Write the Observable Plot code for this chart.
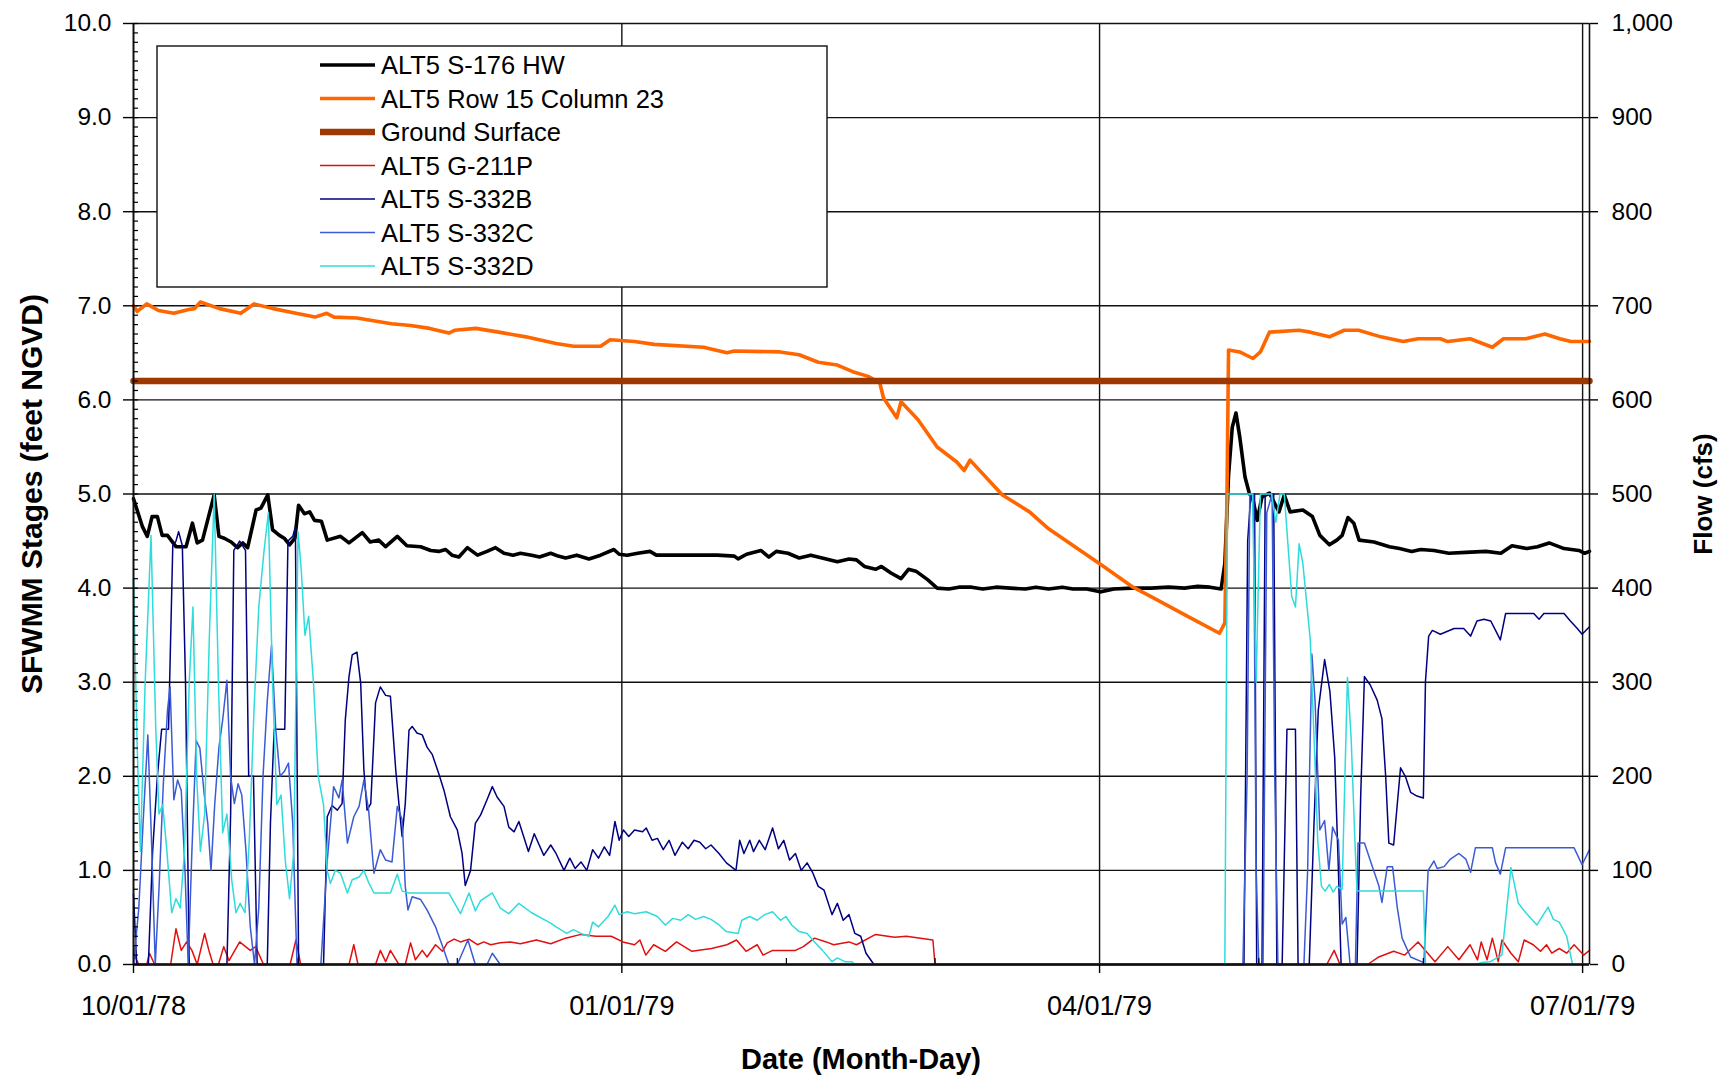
<!DOCTYPE html>
<html>
<head>
<meta charset="utf-8">
<script src="https://cdn.jsdelivr.net/npm/d3@7"></script>
<script src="https://cdn.jsdelivr.net/npm/@observablehq/plot@0.6"></script>
<style>
  html, body { margin: 0; padding: 0; background: #fff; }
  #chart { position: relative; width: 1733px; height: 1075px; }
</style>
</head>
<body>
<div id="chart"></div>
<script>
// ---------------- DATA (days since 10/01/78, value) ----------------
const seriesNames = ["ALT5 S-176 HW", "ALT5 Row 15 Column 23", "Ground Surface", "ALT5 G-211P", "ALT5 S-332B", "ALT5 S-332C", "ALT5 S-332D"];
const seriesColors = ["#000000", "#ff6600", "#9c3800", "#e01010", "#000080", "#3b5bd6", "#2fdcdc"];
const seriesWidths = [3.6, 3.6, 6.5, 1.5, 1.5, 1.5, 1.5];

const xTickDays = [0, 92, 182, 273];
const xTickLabels = ["10/01/78", "01/01/79", "04/01/79", "07/01/79"];
const monthTickDays = [31, 61, 123, 151, 212, 243];
const yTicks = [0, 1, 2, 3, 4, 5, 6, 7, 8, 9, 10];
const yTickLabels = ["0.0", "1.0", "2.0", "3.0", "4.0", "5.0", "6.0", "7.0", "8.0", "9.0", "10.0"];
const flowTickLabels = ["0", "100", "200", "300", "400", "500", "600", "700", "800", "900", "1,000"];

// stages, feet NGVD
const s176HW = [[0,4.95],[1.7,4.65],[2.6,4.55],[3.5,4.76],[4.5,4.76],[5.4,4.56],[6.4,4.56],[8,4.44],[9.9,4.44],[11.1,4.69],[12,4.48],[13,4.51],[15.2,4.99],[16.1,4.55],[17.1,4.53],[18.4,4.49],[19.6,4.43],[20.6,4.48],[21.5,4.43],[23.1,4.83],[24,4.85],[25.3,4.99],[26.2,4.62],[27.5,4.56],[28.4,4.53],[29.4,4.46],[30.4,4.53],[31.1,4.88],[32.2,4.79],[33.2,4.81],[34.1,4.72],[35.4,4.71],[36.5,4.51],[39,4.55],[40.6,4.48],[43.1,4.59],[44.6,4.49],[46.2,4.51],[47.5,4.44],[49.7,4.55],[51.5,4.45],[54.1,4.44],[56,4.40],[57.5,4.39],[58.8,4.41],[60,4.35],[61.3,4.33],[62.9,4.43],[64.8,4.35],[66.6,4.39],[68.2,4.43],[69.8,4.37],[71.5,4.35],[72.9,4.37],[75,4.35],[76.5,4.33],[78.6,4.37],[80,4.34],[81.4,4.32],[83.5,4.35],[85.8,4.31],[88,4.35],[90.5,4.41],[91.5,4.36],[93,4.35],[95,4.37],[97.3,4.39],[98.5,4.35],[100.2,4.35],[103,4.35],[106,4.35],[110,4.35],[113.2,4.34],[113.9,4.31],[115.5,4.36],[118.2,4.40],[119.7,4.33],[121.1,4.39],[123.3,4.37],[125.4,4.32],[127.6,4.35],[130.5,4.31],[132.6,4.28],[134.8,4.31],[136.2,4.30],[137.7,4.23],[139.8,4.20],[140.9,4.23],[142.7,4.16],[144.6,4.10],[146,4.20],[147.4,4.18],[149.6,4.09],[151.4,4.00],[153.6,3.99],[155.5,4.01],[157.9,4.01],[160,3.99],[162.5,4.01],[165.2,4.00],[168,3.99],[170,4.01],[172.4,3.99],[175,4.01],[177,3.99],[179.6,3.99],[182.1,3.96],[184.7,3.99],[188,4.0],[191.7,4.0],[195,4.01],[198,4.0],[200.5,4.02],[202.8,4.01],[204.9,3.99],[205.6,4.26],[206.3,5.2],[207,5.71],[207.7,5.86],[208.4,5.61],[209.4,5.18],[210.2,5.01],[210.9,4.94],[211.7,4.72],[212.6,4.97],[214,5.01],[215.8,4.81],[216.8,4.99],[217.9,4.81],[220.3,4.83],[222.1,4.76],[223.5,4.56],[225.3,4.46],[226.7,4.51],[227.7,4.56],[228.8,4.75],[229.9,4.69],[230.9,4.51],[233.7,4.49],[236.6,4.44],[238.5,4.42],[240.8,4.39],[242.5,4.41],[245,4.40],[247.8,4.37],[251,4.38],[254.8,4.39],[257.6,4.37],[259.7,4.45],[262.5,4.42],[264.5,4.44],[266.7,4.48],[269.5,4.42],[272.3,4.40],[273.4,4.37],[274.3,4.39]];

const row15col23 = [[0,7.0],[0.7,6.94],[2.5,7.02],[4.7,6.95],[7.6,6.92],[10.4,6.96],[11.5,6.97],[12.6,7.04],[16.2,6.97],[20.2,6.92],[22.7,7.02],[26.3,6.97],[30.6,6.92],[34.2,6.88],[36.4,6.92],[37.8,6.88],[42.1,6.87],[48.6,6.81],[52.2,6.79],[55.8,6.76],[59.4,6.71],[60.5,6.74],[64.5,6.76],[68.8,6.72],[73.9,6.67],[79.6,6.60],[82.9,6.57],[88,6.57],[89.8,6.64],[94.4,6.62],[98.1,6.59],[107.4,6.56],[111.8,6.50],[113.2,6.52],[121.8,6.51],[125.4,6.48],[129,6.40],[132.6,6.37],[135.5,6.30],[138.4,6.25],[140.6,6.18],[141.3,6.02],[143.8,5.81],[144.6,5.98],[147.8,5.79],[151.4,5.50],[155.1,5.34],[156.5,5.25],[157.6,5.36],[163.7,4.99],[168.8,4.81],[172.4,4.63],[176.8,4.46],[182.5,4.24],[188.3,4.01],[191.7,3.91],[198.6,3.70],[204.6,3.52],[205.6,3.63],[206,4.97],[206.3,6.53],[208.4,6.51],[210.9,6.44],[212.3,6.51],[214,6.72],[219.6,6.74],[221.7,6.72],[225.3,6.67],[228.1,6.74],[230.8,6.74],[235,6.67],[239.2,6.62],[242,6.65],[246.2,6.65],[247.6,6.62],[251.8,6.65],[256,6.56],[258.1,6.65],[262.3,6.65],[265.9,6.70],[268.7,6.65],[270.8,6.62],[274.3,6.62]];

const groundSurface = [[0,6.2],[274.3,6.2]];

// flows, cfs
const g211P = [[0,12],[1,0],[2.5,0],[3,12],[4,0],[7,0],[8,38],[9,15],[10,24],[11,15],[12,0],[13.4,33],[14.2,15],[15,0],[16,0],[17,19],[18,4],[20,24],[22,15],[23,19],[24.5,0],[29.5,0],[30.6,26],[31.5,0],[40.6,0],[41.5,21],[42.3,0],[45.6,0],[46.5,15],[47.5,3],[48.4,15],[50,0],[51.2,0],[52.2,23],[53.1,5],[54.4,15],[55.3,8],[56.9,21],[58.2,14],[59.1,23],[60.4,27],[61.6,24],[63.2,27],[64.8,21],[66,24],[67.3,21],[69.1,23],[71,24],[72.9,22],[75.9,26],[78.6,22],[81.4,28],[84.3,32],[87.1,30],[90,30],[92.2,24],[94.4,21],[95.4,26],[96.5,10],[98,21],[100.2,14],[102.3,24],[105.2,14],[108.9,17],[111.8,21],[113.6,26],[115.4,14],[117.5,21],[118.6,10],[120.4,15],[124.7,15],[126.2,19],[128.3,28],[130.5,24],[131.9,21],[134.8,24],[136.2,21],[139.8,32],[143.4,29],[145.6,30],[150.6,26],[151,0],[224.8,0],[226.2,15],[227.3,0],[232.5,0],[234.6,8],[237.4,14],[239.5,10],[242,24],[245.2,3],[247.6,19],[249.7,5],[251.8,21],[253.2,5],[253.9,24],[255,5],[256,28],[257.1,3],[257.8,26],[259.5,12],[260.9,3],[262,26],[263.7,21],[265.1,14],[266.2,21],[267.2,12],[268.6,17],[270,12],[271.4,21],[273.2,10],[274.3,15]];

const s332B = [[0,75],[0.6,0],[2.8,0],[3.6,120],[4.5,200],[5.3,250],[6.6,250],[7.4,445],[8,450],[8.5,460],[9.2,445],[9.8,300],[10.5,0],[17.6,0],[18.3,160],[18.9,440],[20,450],[21.1,440],[21.7,200],[22.6,200],[23.3,0],[25.2,0],[25.8,150],[26.5,250],[28.5,250],[29.1,450],[30,455],[30.5,465],[31.1,0],[35.8,0],[36.2,88],[36.5,157],[37.4,169],[38.4,164],[39.3,171],[39.9,260],[40.6,306],[41.2,329],[42.1,332],[42.8,299],[43.4,207],[44,164],[44.7,171],[45.6,278],[46.5,295],[47.5,286],[48.4,285],[49.4,207],[50,171],[50.6,136],[51.2,171],[51.9,249],[52.5,253],[53.4,246],[54.4,244],[55.3,231],[56.3,223],[57.5,203],[58.5,185],[59.7,157],[61,143],[61.9,118],[62.5,84],[63.5,100],[64.4,150],[65.4,159],[66.6,175],[67.6,189],[68.5,178],[69.8,168],[70.7,146],[71.7,141],[72.6,152],[74.4,120],[75.5,139],[77.3,116],[78.6,127],[79.6,118],[81.1,100],[82.2,113],[83.2,102],[84.3,109],[85.4,100],[86.5,122],[87.6,113],[88.7,125],[89.7,116],[90.7,152],[91.5,132],[92.3,143],[93.3,136],[94.4,143],[95.9,141],[96.6,145],[97.7,132],[98.7,134],[99.8,122],[100.9,132],[102,116],[103.4,130],[104.5,123],[105.6,132],[106.7,130],[107.8,123],[108.8,127],[110.3,118],[111.7,108],[113.5,100],[114.2,132],[115,118],[116.1,132],[116.8,120],[117.9,132],[119,122],[120.4,145],[121.5,123],[122.5,132],[123.6,111],[124.7,118],[125.8,100],[126.9,108],[128,97],[129,83],[130.1,79],[131.6,53],[132.6,65],[133.7,47],[134.8,53],[135.9,33],[137,30],[138,12],[139.5,0],[209.2,0],[209.9,450],[210.5,500],[211.2,500],[211.6,0],[212.6,0],[213.2,500],[214.3,500],[214.8,500],[215.4,0],[216.4,0],[217.3,250],[218.9,250],[219.4,0],[221.5,0],[222.4,150],[223.2,270],[224.4,324],[225.4,290],[226.3,220],[227,100],[227.5,0],[230.5,0],[231.2,180],[231.9,306],[233.0,297],[234.3,281],[235.2,261],[235.9,200],[236.5,129],[237.4,127],[238.7,209],[239.6,200],[240.6,183],[241.8,179],[243,177],[243.4,301],[244,349],[244.7,355],[246.2,351],[248.8,357],[250.6,357],[251.9,349],[253.1,365],[254.4,367],[255.7,365],[256.6,355],[257.5,345],[258.5,373],[260.1,373],[263.8,373],[264.8,367],[265.7,373],[269.5,373],[270.7,365],[272,357],[272.9,351],[274.3,359]];

const s332C = [[0,0],[1,60],[1.8,150],[2.7,244],[3.4,130],[4.1,0],[4.8,80],[5.6,190],[6.4,270],[6.9,295],[7.6,175],[8.3,196],[9,185],[9.7,100],[10.3,0],[11,120],[11.8,238],[12.5,230],[13.3,182],[14,150],[14.6,100],[15.3,170],[16.1,231],[16.8,260],[17.6,302],[18.3,200],[19,171],[19.7,192],[20.4,180],[21.2,120],[22,40],[22.8,0],[23.6,60],[24.4,200],[25.2,280],[26,339],[26.8,250],[27.6,200],[28.4,205],[29.2,214],[30,150],[30.8,0],[35.3,0],[36.5,110],[37.7,189],[38.7,177],[39.3,196],[40.3,129],[41.5,157],[42.5,168],[43.4,196],[44.3,164],[45.3,97],[46.5,122],[47.5,111],[48.7,109],[49.7,168],[50.6,154],[51.2,83],[51.7,58],[52.5,72],[54.1,69],[55.3,58],[56.9,40],[58.5,15],[59.4,0],[61,0],[63,26],[64.4,0],[66.6,0],[67.6,12],[69.1,0],[209,0],[209.8,200],[210.3,500],[211,500],[211.5,100],[212,0],[212.8,0],[213.5,480],[214.5,500],[215,200],[215.6,0],[220.5,0],[221.2,100],[222,330],[222.6,280],[223.5,143],[224.4,153],[225.2,100],[225.9,146],[227,132],[227.7,43],[228.4,50],[229.2,0],[230.2,0],[230.7,129],[231.9,129],[233.4,104],[234.6,84],[235.2,66],[236.2,104],[237.2,104],[238.1,60],[239,28],[240.6,8],[243.1,2],[243.9,100],[245,110],[245.6,102],[246.9,104],[248.1,112],[249.7,118],[251,112],[251.9,98],[252.8,124],[256,124],[256.6,108],[257.5,96],[258.5,124],[271.4,124],[272.9,106],[274.3,122]];

const s332D = [[0,410],[0.7,230],[1.3,120],[2.2,300],[3.3,456],[4.2,250],[4.8,160],[5.5,170],[6.3,120],[7.2,55],[8,70],[8.8,60],[9.6,120],[10.5,300],[11.2,380],[11.9,200],[12.6,120],[13.4,160],[14.3,350],[15.2,500],[16,300],[16.8,140],[17.6,160],[18.5,90],[19.3,55],[20.1,65],[21,55],[21.8,130],[22.7,270],[23.6,380],[24.6,440],[25.4,480],[26.2,300],[27,170],[27.8,180],[28.6,110],[29.4,70],[30.2,120],[31,460],[31.6,420],[32.3,350],[33,370],[33.9,300],[34.8,200],[35.8,170],[36.5,100],[37.1,86],[38,100],[39,97],[40.3,76],[41.2,90],[42.5,93],[43.4,100],[44.3,87],[45.3,76],[48.4,76],[49.7,96],[50.6,78],[51.9,76],[59.4,76],[61.6,54],[63.2,76],[64.4,57],[65.4,68],[67.6,76],[69.1,60],[70.7,54],[72.6,65],[75,55],[78.6,44],[79.6,40],[81.6,33],[82.9,37],[84.3,33],[85.8,30],[86.5,45],[87.6,40],[89.4,51],[90.7,63],[91.5,53],[93,56],[94.4,54],[96.6,56],[98.7,51],[100.2,42],[101.6,49],[103.1,47],[104.5,53],[105.9,48],[107.4,51],[108.8,48],[110.3,42],[111.7,35],[113.9,33],[114.6,47],[116.1,51],[117.5,47],[118.9,53],[120.4,56],[121.9,47],[122.9,51],[124,42],[125.4,35],[126.9,33],[128.3,24],[129.8,15],[131.6,3],[132.6,7],[134,3],[135.3,3],[136,0],[205.6,0],[206.1,500],[210.8,500],[211.5,300],[212.3,500],[214.4,500],[215.2,470],[216,500],[216.8,500],[218.2,391],[218.9,380],[219.6,447],[220.3,426],[221.7,345],[222.4,242],[223.1,132],[223.8,83],[224.5,78],[225.3,85],[226,77],[226.7,83],[227.7,80],[228,150],[228.7,305],[229.4,240],[230.1,132],[230.5,78],[243,78],[243.4,0],[252.5,0],[254,2],[255.6,3],[257.8,10],[259.5,103],[260.9,65],[262.3,55],[264.4,42],[266.5,61],[267.5,48],[268.6,45],[270,30],[271.1,0],[274.3,0]];

// ---------------- BUILD ----------------
const START = Date.UTC(1978, 9, 1);
const DAY = 864e5;
const X_END_DAY = 274.3;
const toDate = d => new Date(START + d * DAY);

const seriesData = [s176HW, row15col23, groundSurface, g211P, s332B, s332C, s332D];
const isFlow = [false, false, false, true, true, true, true];
const rowsFor = i => seriesData[i].map(([d, v]) => ({series: seriesNames[i], date: toDate(d), value: isFlow[i] ? v / 100 : v}));

const xTickDates = xTickDays.map(toDate);
const xLabelByTime = new Map(xTickDays.map((d, i) => [toDate(d).getTime(), xTickLabels[i]]));
const gridDates = xTickDays.slice(1).map(toDate);
const monthDates = monthTickDays.map(toDate);
const minorY = d3.range(0, 101).map(k => k / 10);

const font = "'Liberation Sans', Arial, Helvetica, sans-serif";
const axisColor = "#111";

const lineMarks = seriesNames.map((name, i) =>
  Plot.line(rowsFor(i), {x: "date", y: "value", stroke: seriesColors[i], strokeWidth: seriesWidths[i], strokeLinejoin: "round", curve: "linear"})
);

const plot = Plot.plot({
  width: 1733,
  height: 1075,
  marginLeft: 133,
  marginRight: 144,
  marginTop: 23,
  marginBottom: 111,
  style: {fontFamily: font, background: "white", color: "#000"},
  x: {type: "utc", domain: [toDate(0), toDate(X_END_DAY)]},
  y: {domain: [0, 10]},
  marks: [
    Plot.gridY(yTicks, {stroke: axisColor, strokeOpacity: 1, strokeWidth: 1.4}),
    Plot.gridX(gridDates, {stroke: axisColor, strokeOpacity: 1, strokeWidth: 1.4}),
    ...lineMarks,
    Plot.ruleX([toDate(0)], {stroke: axisColor, strokeWidth: 2}),
    Plot.ruleX([toDate(X_END_DAY)], {stroke: axisColor, strokeWidth: 1.6}),
    Plot.ruleY([0], {stroke: axisColor, strokeWidth: 2.6}),
    Plot.axisY(yTicks, {anchor: "left", tickSize: 10, tickPadding: 12, strokeWidth: 1.4, tickFormat: d => yTickLabels[Math.round(d)], fontSize: 24.5, label: null}),
    Plot.axisY(minorY, {anchor: "left", tickSize: 5, dx: 5, strokeWidth: 1.2, tickFormat: () => "", label: null}),
    Plot.axisY(yTicks, {anchor: "right", tickSize: 8, tickPadding: 14, strokeWidth: 1.4, tickFormat: d => flowTickLabels[Math.round(d)], fontSize: 24.5, label: null}),
    Plot.axisX(xTickDates, {anchor: "bottom", tickSize: 9, tickPadding: 22, strokeWidth: 1.4, tickFormat: d => xLabelByTime.get(d.getTime()), fontSize: 27, label: null}),
    Plot.axisX(monthDates, {anchor: "bottom", tickSize: 6, dy: -6, strokeWidth: 1.2, tickFormat: () => "", label: null})
  ]
});

document.getElementById("chart").appendChild(plot);

// ---------------- TITLES & LEGEND ----------------
const svg = d3.select(plot);
const titles = svg.append("g").attr("font-family", font).attr("font-weight", "bold").attr("fill", "#000");
titles.append("text")
  .attr("transform", "translate(31,494) rotate(-90)")
  .attr("text-anchor", "middle").attr("dominant-baseline", "central")
  .attr("font-size", 30).text("SFWMM Stages (feet NGVD)");
titles.append("text")
  .attr("transform", "translate(1703,494) rotate(-90)")
  .attr("text-anchor", "middle").attr("dominant-baseline", "central")
  .attr("font-size", 26).text("Flow (cfs)");
titles.append("text")
  .attr("x", 861).attr("y", 1059)
  .attr("text-anchor", "middle").attr("dominant-baseline", "central")
  .attr("font-size", 29).text("Date (Month-Day)");

const legend = svg.append("g").attr("font-family", font);
legend.append("rect")
  .attr("x", 157).attr("y", 46).attr("width", 670).attr("height", 241)
  .attr("fill", "white").attr("stroke", "#111").attr("stroke-width", 1.4);
seriesNames.forEach((name, i) => {
  const y = 65 + i * 33.5;
  legend.append("line")
    .attr("x1", 320).attr("x2", 375).attr("y1", y).attr("y2", y)
    .attr("stroke", seriesColors[i]).attr("stroke-width", seriesWidths[i]);
  legend.append("text")
    .attr("x", 381).attr("y", y)
    .attr("text-anchor", "start")
    .attr("dominant-baseline", "central")
    .attr("font-size", 25.5).attr("fill", "#000")
    .text(name);
});
</script>
</body>
</html>
